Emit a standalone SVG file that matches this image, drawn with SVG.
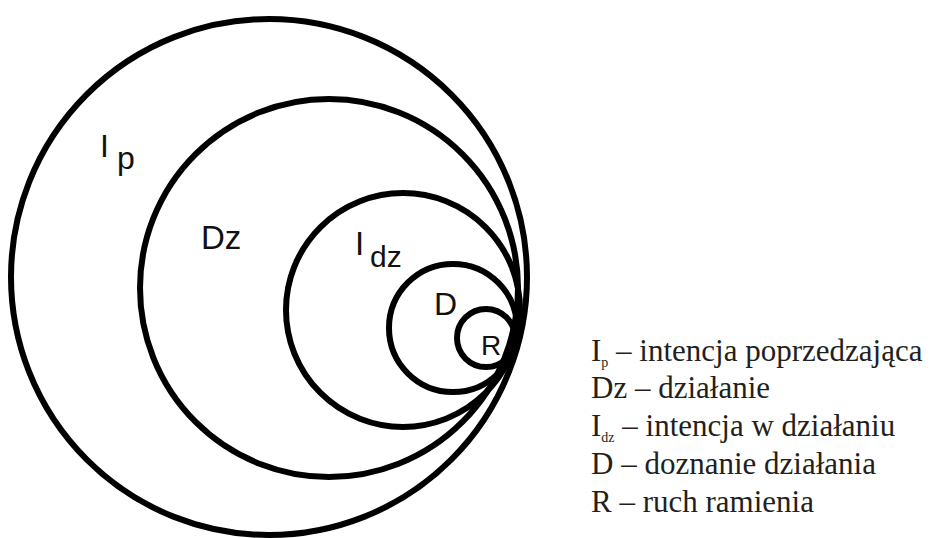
<svg xmlns="http://www.w3.org/2000/svg" width="937" height="538" viewBox="0 0 937 538">
<style>
.c{fill:none;stroke:#000;stroke-width:6}
.s{font-family:"Liberation Sans",Arial,sans-serif;fill:#111}
.l{font-family:"Liberation Serif","Times New Roman",serif;font-size:31px;fill:#231f20}
.sub{font-size:14px}
</style>
<rect width="937" height="538" fill="#fff"/>
<g id="Ip">
<circle class="c" cx="269" cy="277" r="258"/>
<text class="s" x="100" y="157" font-size="32">I</text>
<text class="s" x="117" y="169" font-size="32">p</text>
</g>
<g id="Dz">
<circle class="c" cx="329" cy="288" r="189"/>
<text class="s" x="201" y="249" font-size="33">Dz</text>
</g>
<g id="Idz">
<circle class="c" cx="403" cy="310" r="117"/>
<text class="s" x="355" y="255" font-size="33">I</text>
<text class="s" x="370" y="267" font-size="30">dz</text>
</g>
<g id="D">
<circle class="c" cx="453" cy="328" r="64"/>
<text class="s" x="434" y="315" font-size="32">D</text>
</g>
<g id="R">
<circle class="c" cx="486" cy="338" r="29"/>
<text class="s" x="481" y="355" font-size="28">R</text>
</g>
<g id="connectors"/>
<g id="legend">
<text class="l" x="591" y="361">I<tspan class="sub" dy="6">p</tspan><tspan dy="-6"> – intencja poprzedzająca</tspan></text>
<text class="l" x="591" y="398">Dz – działanie</text>
<text class="l" x="591" y="436">I<tspan class="sub" dy="6">dz</tspan><tspan dy="-6"> – intencja w działaniu</tspan></text>
<text class="l" x="591" y="474">D – doznanie działania</text>
<text class="l" x="591" y="512">R – ruch ramienia</text>
</g>
</svg>
